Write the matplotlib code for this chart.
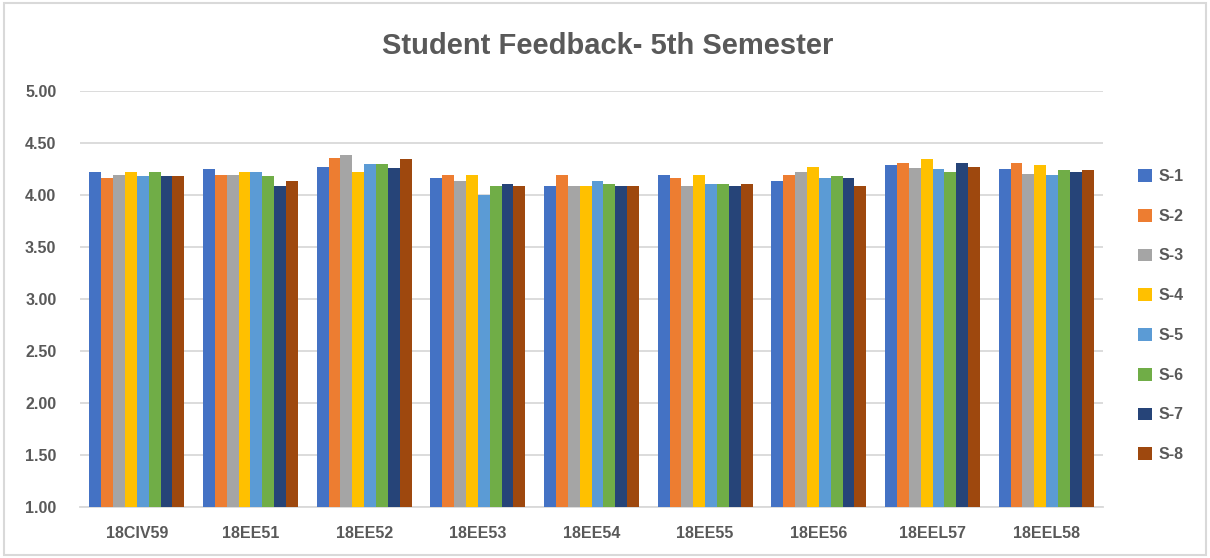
import matplotlib.pyplot as plt
import numpy as np
from matplotlib.patches import Rectangle

plt.rcParams["font.family"] = ["Liberation Sans", "DejaVu Sans"]

courses = ["18CIV59", "18EE51", "18EE52", "18EE53", "18EE54",
           "18EE55", "18EE56", "18EEL57", "18EEL58"]
series_names = ["S-1", "S-2", "S-3", "S-4", "S-5", "S-6", "S-7", "S-8"]

s1 = [4.22, 4.25, 4.27, 4.16, 4.09, 4.19, 4.13, 4.29, 4.25]
s2 = [4.16, 4.19, 4.36, 4.19, 4.19, 4.16, 4.19, 4.31, 4.31]
s3 = [4.19, 4.19, 4.38, 4.13, 4.09, 4.09, 4.22, 4.26, 4.20]
s4 = [4.22, 4.22, 4.22, 4.19, 4.09, 4.19, 4.27, 4.35, 4.29]
s5 = [4.18, 4.22, 4.30, 4.00, 4.13, 4.11, 4.16, 4.25, 4.19]
s6 = [4.22, 4.18, 4.30, 4.09, 4.11, 4.11, 4.18, 4.22, 4.24]
s7 = [4.18, 4.09, 4.26, 4.11, 4.09, 4.09, 4.16, 4.31, 4.22]
s8 = [4.18, 4.13, 4.35, 4.09, 4.09, 4.11, 4.09, 4.27, 4.24]
all_series = [s1, s2, s3, s4, s5, s6, s7, s8]

colors = ["#4472c4", "#ed7d31", "#a5a5a5", "#ffc000",
          "#5b9bd5", "#70ad47", "#264478", "#9e480e"]

fig = plt.figure(figsize=(12.1, 5.58), dpi=100)
ax = fig.add_axes([0.0661, 0.0914, 0.8455, 0.7455])

x = np.arange(len(courses))
group_w = 0.835
bw = group_w / len(all_series)
for i, vals in enumerate(all_series):
    offs = -group_w / 2 + bw * (i + 0.5)
    ax.bar(x + offs, vals, width=bw, color=colors[i], label=series_names[i],
           zorder=3)

ax.set_xlim(-0.5, len(courses) - 0.5)
ax.set_ylim(1.0, 5.0)
ax.set_yticks(np.arange(1.0, 5.01, 0.5))
ax.set_yticklabels([f"{v:.2f}" for v in np.arange(1.0, 5.01, 0.5)])
ax.set_xticks(x)
ax.set_xticklabels(courses)
ax.yaxis.grid(True, color="#d9d9d9", linewidth=1.3, zorder=0)
for sp in ["top", "right", "left"]:
    ax.spines[sp].set_visible(False)
ax.spines["bottom"].set_color("#d9d9d9")
ax.spines["bottom"].set_linewidth(1.3)
ax.tick_params(axis="both", length=0, labelsize=11.5, colors="#595959")
ax.tick_params(axis="y", pad=17)
ax.tick_params(axis="x", pad=14)
for lab in ax.get_xticklabels() + ax.get_yticklabels():
    lab.set_fontweight("bold")

fig.text(0.502, 0.918, "Student Feedback- 5th Semester", ha="center",
         va="center", fontsize=21, fontweight="bold", color="#595959")

leg = fig.legend(loc="upper left", bbox_to_anchor=(0.929, 0.723),
                 frameon=False, handlelength=0.85, handleheight=0.85,
                 handletextpad=0.4, labelspacing=1.55, fontsize=11.5,
                 labelcolor="#595959")
for t in leg.get_texts():
    t.set_fontweight("bold")

fig.patches.append(Rectangle((0.003, 0.005), 0.994, 0.99,
                             transform=fig.transFigure, fill=False,
                             edgecolor="#d9d9d9", linewidth=1.5))

fig.savefig("out.png", dpi=100)
